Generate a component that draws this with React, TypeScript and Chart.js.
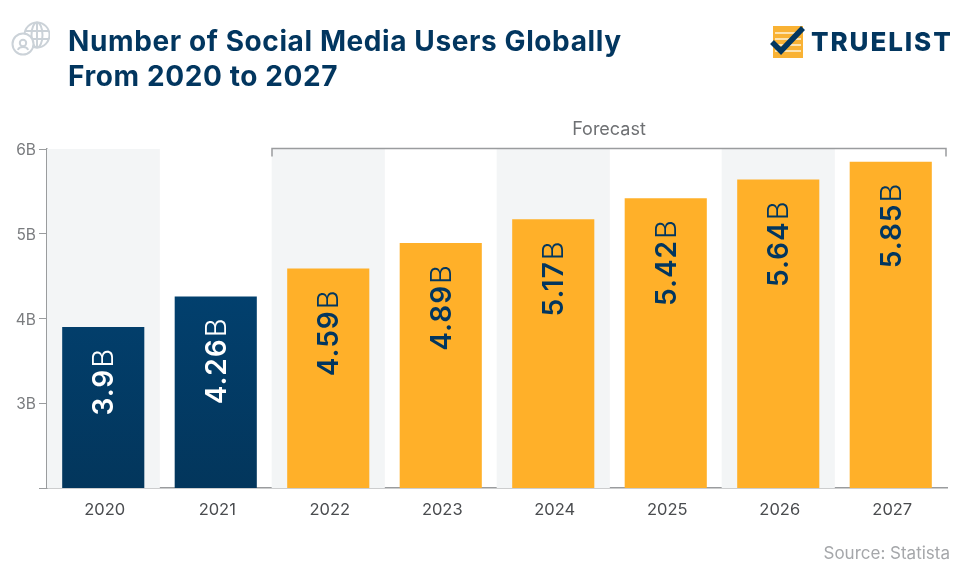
import React, { useEffect, useRef } from "react";
import { Chart, registerables } from "chart.js";

Chart.register(...registerables);

const years = ["2020", "2021", "2022", "2023", "2024", "2025", "2026", "2027"];
const users = [3.9, 4.26, 4.59, 4.89, 5.17, 5.42, 5.64, 5.85];
const valueLabels = ["3.9", "4.26", "4.59", "4.89", "5.17", "5.42", "5.64", "5.85"];
const bands = [6, null, 6, null, 6, null, 6, null];
const forecastStart = 2;
const actualCount = 2;

const FONT = '"Inter", "Open Sans", sans-serif';
const NAVY = "#02365F";
const ORANGE = "#FFB029";
const AXIS = "#9a9c9e";

const overlayPlugin = {
  id: "overlay",
  afterDatasetsDraw(chart: any) {
    const { ctx, scales } = chart;
    const x = scales.x;
    const y = scales.y;
    const step = x.getPixelForValue(1) - x.getPixelForValue(0);
    // value labels
    users.forEach((v, i) => {
      const px = x.getPixelForValue(i);
      const top = y.getPixelForValue(v);
      ctx.save();
      ctx.translate(px + 1.5, top + 21);
      ctx.rotate(-Math.PI / 2);
      ctx.textAlign = "right";
      ctx.textBaseline = "middle";
      ctx.fillStyle = i < actualCount ? "#ffffff" : NAVY;
      ctx.letterSpacing = "1px";
      ctx.font = `300 29px ${FONT}`;
      ctx.fillText("B", 0, 0);
      const bw = ctx.measureText("B").width;
      ctx.font = `600 28px ${FONT}`;
      ctx.fillText(valueLabels[i], -bw - 1, 0);
      ctx.restore();
    });
    // forecast bracket
    const left = x.getPixelForValue(forecastStart) - step / 2;
    const right = x.right - 1;
    const topY = y.top - 0.5;
    ctx.save();
    ctx.strokeStyle = AXIS;
    ctx.lineWidth = 1.5;
    ctx.beginPath();
    ctx.moveTo(left, topY + 8);
    ctx.lineTo(left, topY);
    ctx.lineTo(right, topY);
    ctx.lineTo(right, topY + 8);
    ctx.stroke();
    ctx.fillStyle = "#6e7073";
    ctx.font = `400 18px ${FONT}`;
    ctx.textAlign = "center";
    ctx.textBaseline = "middle";
    ctx.fillText("Forecast", (left + right) / 2, topY - 18.5);
    ctx.restore();
  },
};

export default function App() {
  const ref = useRef<HTMLCanvasElement>(null);
  useEffect(() => {
    const chart = new Chart(ref.current!, {
      type: "bar",
      plugins: [overlayPlugin],
      data: {
        labels: years,
        datasets: [
          {
            label: "Users",
            data: users,
            order: 1,
            barPercentage: 0.73,
            categoryPercentage: 1,
            grouped: false,
            backgroundColor: (c: any) => {
              if (c.dataIndex >= actualCount) return ORANGE;
              const area = c.chart.chartArea;
              if (!area) return NAVY;
              const g = c.chart.ctx.createLinearGradient(0, area.top, 0, area.bottom);
              g.addColorStop(0, "#01477B");
              g.addColorStop(1, "#03365C");
              return g;
            },
          } as any,
          {
            label: "Bands",
            data: bands,
            order: 2,
            barPercentage: 1,
            categoryPercentage: 1,
            grouped: false,
            backgroundColor: "#F3F5F6",
          } as any,
        ],
      },
      options: {
        animation: false,
        responsive: false,
        layout: { padding: { top: 149, right: 16, left: 0, bottom: 0 } },
        plugins: { legend: { display: false }, tooltip: { enabled: false } },
        scales: {
          x: {
            afterFit: (s: any) => { s.height = 83; },
            grid: { display: false, drawTicks: false },
            border: { color: AXIS, width: 1.5 },
            ticks: { color: "#4a4c4f", font: { family: FONT, size: 16.5, weight: "400" }, padding: 12, maxRotation: 0, labelOffset: 1.5 },
          },
          y: {
            min: 2,
            max: 6,
            afterFit: (s: any) => { s.width = 47; },
            grid: { display: true, drawOnChartArea: false, drawTicks: true, tickLength: 8, color: AXIS, tickWidth: 1 },
            border: { color: AXIS, width: 1.5 },
            ticks: {
              stepSize: 1,
              color: "#7a7c7f",
              padding: 3,
              labelOffset: 1.5,
              font: { family: FONT, size: 15.5, weight: "400" },
              callback: (v: any) => (v === 2 ? "" : `${v}B`),
            },
          },
        },
      },
    } as any);
    return () => chart.destroy();
  }, []);

  return (
    <div style={{ position: "absolute", left: 0, top: 0, width: 963, height: 571, background: "#fff", overflow: "hidden", fontFamily: FONT }}>
      <canvas ref={ref} width={963} height={571} style={{ position: "absolute", left: 0, top: 0 }} />
      <div style={{ position: "absolute", left: 68, top: 24, color: "#02365F", fontSize: 28, fontWeight: 700, letterSpacing: 0.6, lineHeight: "35px", whiteSpace: "nowrap" }}>
        Number of Social Media Users Globally<br />From 2020 to 2027
      </div>
      <svg width="40" height="38" viewBox="0 0 40 38" style={{ position: "absolute", left: 10, top: 21 }} fill="none" stroke="#CBD2D8" strokeWidth="2">
        <circle cx="27" cy="14" r="12.5" />
        <ellipse cx="27" cy="14" rx="5.5" ry="12.5" />
        <path d="M15 10h24M15 18h24M27 2v24" />
        <circle cx="13" cy="23" r="10.5" fill="#fff" />
        <circle cx="13" cy="22" r="3.2" />
        <path d="M8 29c1-4 9-4 10 0" />
      </svg>
      <svg width="36" height="34" viewBox="0 0 36 34" style={{ position: "absolute", left: 770, top: 25 }}>
        <rect x="3" y="1" width="30" height="32" fill="#F9B234" />
        <path d="M5 8h26M5 14h26M5 20h26M5 26h26" stroke="#FDE3B0" strokeWidth="2" />
        <path d="M2 17l9 9L33 3" fill="none" stroke="#02365F" strokeWidth="5.5" />
      </svg>
      <div style={{ position: "absolute", left: 811, top: 25, color: "#02365F", fontSize: 26, fontWeight: 800, letterSpacing: 1.9, lineHeight: "34px", whiteSpace: "nowrap" }}>
        TRUELIST
      </div>
      <div style={{ position: "absolute", right: 13, top: 544, color: "#a5a7aa", fontSize: 17, lineHeight: "18px", whiteSpace: "nowrap" }}>
        Source: Statista
      </div>
    </div>
  );
}
